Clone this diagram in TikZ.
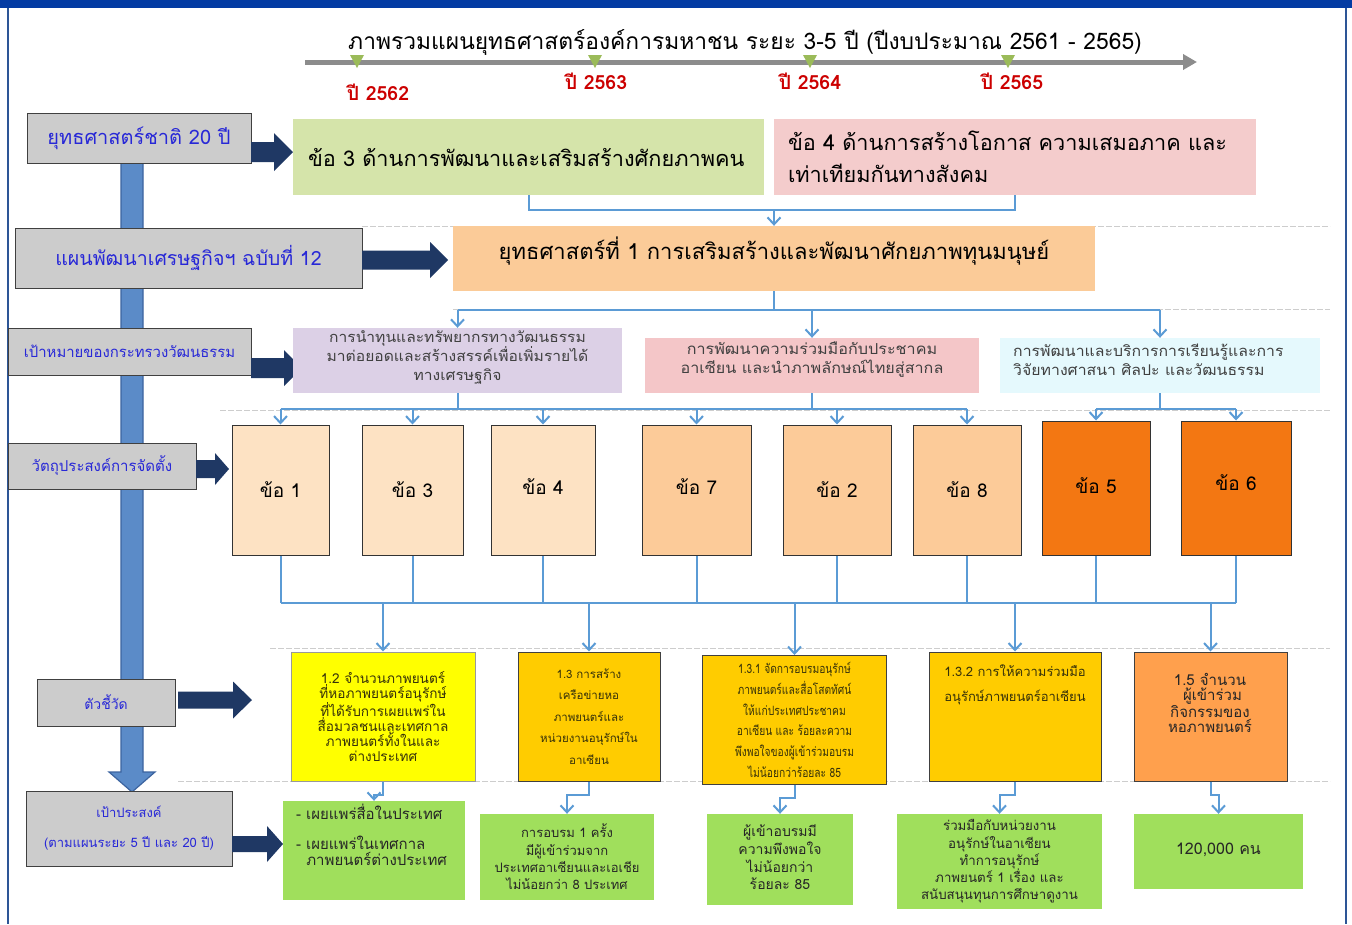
\documentclass[tikz,border=0pt]{standalone}
\usepackage{fontspec}
\setmainfont{Loma}[Script=Thai]
\newfontfamily\thcond{Loma}[Script=Thai,FakeStretch=0.8]
\newfontfamily\thwide{Loma}[Script=Thai,FakeStretch=1.07]
\usetikzlibrary{arrows.meta}
\newcommand\fsz[2]{\fontsize{#1}{#2}\selectfont}
\definecolor{topbar}{RGB}{3,59,163}
\definecolor{frameblue}{RGB}{45,85,150}
\definecolor{tlgray}{RGB}{140,140,140}
\definecolor{tgreen}{RGB}{155,187,89}
\definecolor{yred}{RGB}{204,0,0}
\definecolor{lgray}{RGB}{204,204,204}
\definecolor{lblue}{RGB}{40,40,215}
\definecolor{navy}{RGB}{31,56,100}
\definecolor{vblue}{RGB}{91,139,200}
\definecolor{vblueD}{RGB}{60,100,160}
\definecolor{cblue}{RGB}{91,155,213}
\definecolor{gG}{RGB}{213,228,170}
\definecolor{pP}{RGB}{244,204,204}
\definecolor{oO}{RGB}{251,203,152}
\definecolor{pu}{RGB}{220,208,230}
\definecolor{pk}{RGB}{244,198,200}
\definecolor{cy}{RGB}{229,249,253}
\definecolor{pe1}{RGB}{253,226,195}
\definecolor{pe2}{RGB}{252,203,153}
\definecolor{or1}{RGB}{243,119,18}
\definecolor{ye}{RGB}{255,255,0}
\definecolor{go}{RGB}{255,204,0}
\definecolor{or2}{RGB}{255,160,77}
\definecolor{gr}{RGB}{160,223,92}
\definecolor{sepc}{RGB}{205,205,205}
\definecolor{itext}{RGB}{55,50,10}
\newcommand\harrow[6]{\fill[navy] (#1,{#3-#4}) -- ({#2-#6},{#3-#4}) -- ({#2-#6},{#3-#5}) -- (#2,#3) -- ({#2-#6},{#3+#5}) -- ({#2-#6},{#3+#4}) -- (#1,{#3+#4}) -- cycle;}
\newcommand\gtri[1]{\fill[tgreen] ({#1-7},55) -- ({#1+7},55) -- (#1,68) -- cycle;}
\begin{document}
\begin{tikzpicture}[x=1pt,y=-1pt,
  lbox/.style={draw=black!75, fill=lgray, line width=1pt, text=lblue, inner sep=0pt, align=center},
  conn/.style={draw=cblue, line width=2pt},
  arr/.style={-{Straight Barb[length=7pt,width=13pt]}},
  sepline/.style={draw=sepc, line width=1pt, dash pattern=on 6pt off 2pt},
  kbox/.style={draw=black!80, line width=1pt, minimum height=130pt, inner sep=0pt, font=\fsz{19}{22}},
  ibox/.style={draw=black!75, line width=1pt, minimum height=129pt, inner sep=0pt, align=center, text=itext},
  bbox/.style={fill=gr, inner sep=0pt, align=center, text=black!85},
  yr/.style={text=yred, font=\bfseries\fsz{19.5}{22}},
  tx/.style={inner sep=0pt, align=center}
]
\useasboundingbox (0,0) rectangle (1352,924);
\fill[white] (0,0) rectangle (1352,924);
\fill[topbar] (0,0) rectangle (1352,8);
\draw[frameblue, line width=1.5pt] (8,8) -- (8,924);
\draw[frameblue, line width=1.5pt] (1346,8) -- (1346,924);
% separators
\draw[sepline] (362,226) -- (1330,226);
\draw[sepline] (453,309) -- (1330,309);
\draw[sepline] (220,410) -- (1330,410);
\draw[sepline] (270,648) -- (1330,648);
\draw[sepline] (178,781) -- (1330,781);
% title and timeline
\node[font=\fsz{22.8}{26}] (title) at (745,42) {ภาพรวมแผนยุทธศาสตร์องค์การมหาชน ระยะ 3-5 ปี (ปีงบประมาณ 2561 - 2565)};
\coordinate (ts) at (305,62);
\coordinate (te) at (1197,62);
\draw[tlgray, line width=5pt, -{Triangle[length=14pt,width=15pt]}] (ts) -- (te);
\gtri{357}\gtri{595}\gtri{810}\gtri{1008}
\node[yr] (y1) at (378,92) {ปี 2562};
\node[yr] (y2) at (596,81) {ปี 2563};
\node[yr] (y3) at (810,81) {ปี 2564};
\node[yr] (y4) at (1012,81) {ปี 2565};
% vertical blue arrow
\filldraw[fill=vblue, draw=vblueD, line width=1.2pt] (121,163) -- (143,163) -- (143,772) -- (155,772) -- (132,792) -- (109,772) -- (121,772) -- cycle;
% left boxes
\node[lbox, minimum width=224pt, minimum height=50pt, font=\fsz{20}{22}] (L1) at (139,138) {ยุทธศาสตร์ชาติ 20 ปี};
\node[lbox, minimum width=347pt, minimum height=60pt, font=\fsz{19.6}{22}] (L2) at (188.5,258) {แผนพัฒนาเศรษฐกิจฯ ฉบับที่ 12};
\node[lbox, minimum width=243pt, minimum height=47pt, font=\fsz{14.9}{17}] (L3) at (129.5,351.5) {เป้าหมายของกระทรวงวัฒนธรรม};
\node[lbox, minimum width=188pt, minimum height=46pt, font=\fsz{15}{17}] (L4) at (102,466) {วัตถุประสงค์การจัดตั้ง};
\node[lbox, minimum width=138pt, minimum height=47pt, font=\fsz{14}{16}] (L5) at (106,702.5) {ตัวชี้วัด};
\node[lbox, minimum width=206pt, minimum height=75pt, font=\fsz{13}{30}] (L6) at (129,828.5) {เป้าประสงค์\\(ตามแผนระยะ 5 ปี และ 20 ปี)};
% navy block arrows
\harrow{251}{293}{152}{10}{19}{19}
\harrow{362}{448}{260}{9.5}{18}{18}
\harrow{251}{302}{368}{10}{18}{18}
\harrow{196}{229}{469}{9}{16}{14}
\harrow{178}{252}{700}{8.5}{18.5}{19}
\harrow{232}{283}{844}{8}{18}{16}
% top boxes
\node[fill=gG, minimum width=471pt, minimum height=76pt, text width=441pt, inner xsep=15pt, inner ysep=0pt, align=left, font=\fsz{21.7}{24}] (G) at (528.5,157) {ข้อ 3 ด้านการพัฒนาและเสริมสร้างศักยภาพคน};
\node[fill=pP, minimum width=482pt, minimum height=76pt, text width=454pt, inner xsep=14pt, inner ysep=0pt, align=left, font=\fsz{21.7}{32}] (P) at (1015,157) {ข้อ 4 ด้านการสร้างโอกาส ความเสมอภาค และ\\เท่าเทียมกันทางสังคม};
\node[fill=oO, minimum width=642pt, minimum height=65pt] (O) at (774,258.5) {};
\node[tx, font=\fsz{22}{24}] (Ot) at (774,251) {ยุทธศาสตร์ที่ 1 การเสริมสร้างและพัฒนาศักยภาพทุนมนุษย์};
\coordinate (jt) at (774,210);
\draw[conn] (G.south) -- (G.south |- jt) -- (P.south |- jt) -- (P.south);
\draw[conn, arr] (jt) -- (O.north);
% level 3 boxes
\node[fill=pu, minimum width=329pt, minimum height=65pt, inner sep=0pt] (Pu) at (457.5,360.5) {};
\node[tx, font=\thwide\fsz{14.6}{19}, text=black!75] (Put) at (457.5,357) {การนำทุนและทรัพยากรทางวัฒนธรรม\\มาต่อยอดและสร้างสรรค์เพื่อเพิ่มรายได้\\ทางเศรษฐกิจ};
\node[fill=pk, minimum width=334pt, minimum height=55pt, inner sep=0pt] (Pk) at (812,365.5) {};
\node[tx, font=\thwide\fsz{15.1}{19}, text=black!75] (Pkt) at (812,360) {การพัฒนาความร่วมมือกับประชาคม\\อาเซียน และนำภาพลักษณ์ไทยสู่สากล};
\node[fill=cy, minimum width=320pt, minimum height=55pt, inner sep=0pt] (Cy) at (1160,365.5) {};
\node[tx, anchor=west, align=left, font=\thwide\fsz{14.8}{19}, text=black!75] (Cyt) at (1013,360) {การพัฒนาและบริการการเรียนรู้และการ\\วิจัยทางศาสนา ศิลปะ และวัฒนธรรม};
\coordinate (j2) at (774,310);
\draw[conn] (O.south) -- (j2);
\draw[conn] (Pu.north |- j2) -- (Cy.north |- j2);
\foreach \n in {Pu,Pk,Cy} \draw[conn, arr] (\n.north |- j2) -- (\n.north);
% goal boxes
\node[kbox, fill=pe1, minimum width=97pt] (k1) at (280.5,490) {ข้อ 1};
\node[kbox, fill=pe1, minimum width=101pt] (k3) at (412.5,490) {ข้อ 3};
\node[kbox, fill=pe1, minimum width=104pt] (k4) at (543,490) {\raisebox{7pt}{ข้อ 4}};
\node[kbox, fill=pe2, minimum width=109pt] (k7) at (696.5,490) {\raisebox{7pt}{ข้อ 7}};
\node[kbox, fill=pe2, minimum width=108pt] (k2) at (837,490) {ข้อ 2};
\node[kbox, fill=pe2, minimum width=108pt] (k8) at (967,490) {ข้อ 8};
\node[kbox, fill=or1, minimum width=108pt, minimum height=134pt] (k5) at (1096,488) {\raisebox{4pt}{ข้อ 5}};
\node[kbox, fill=or1, minimum width=110pt, minimum height=134pt] (k6) at (1236,488) {\raisebox{11pt}{ข้อ 6}};
\coordinate (j3) at (0,409);
\draw[conn] (Pu.south) -- (Pu.south |- j3);
\draw[conn] (Pk.south) -- (Pk.south |- j3);
\draw[conn] (k1.north |- j3) -- (k8.north |- j3);
\foreach \n in {k1,k3,k4,k7,k2,k8} \draw[conn, arr] (\n.north |- j3) -- (\n.north);
\draw[conn] (Cy.south) -- (Cy.south |- j3);
\draw[conn] (k5.north |- j3) -- (k6.north |- j3);
\foreach \n in {k5,k6} \draw[conn, arr] (\n.north |- j3) -- (\n.north);
% indicator boxes
\node[ibox, fill=ye, draw=black!40, minimum width=184pt, font=\fsz{13.6}{15}] (i1) at (383,716.5) {1.2 จำนวนภาพยนตร์\\ที่หอภาพยนตร์อนุรักษ์\\ที่ได้รับการเผยแพร่ใน\\สื่อมวลชนและเทศกาล\\ภาพยนตร์ทั้งในและ\\ต่างประเทศ};
\node[ibox, fill=go, minimum width=142pt, font=\fsz{11.5}{21.5}] (i2) at (589,716.5) {1.3 การสร้าง\\เครือข่ายหอ\\ภาพยนตร์และ\\หน่วยงานอนุรักษ์ใน\\อาเซียน};
\node[ibox, fill=go, minimum width=184pt, font=\thcond\fsz{12.8}{20.8}] (i3) at (794.5,720) {1.3.1 จัดการอบรมอนุรักษ์\\ภาพยนตร์และสื่อโสตทัศน์\\ให้แก่ประเทศประชาคม\\อาเซียน และ ร้อยละความ\\พึงพอใจของผู้เข้าร่วมอบรม\\ไม่น้อยกว่าร้อยละ 85};
\node[ibox, fill=go, minimum width=172pt] (i4) at (1015,716.5) {};
\node[tx, text=itext, font=\fsz{13}{25}] (i4t) at (1015,684.5) {1.3.2 การให้ความร่วมมือ\\อนุรักษ์ภาพยนตร์อาเซียน};
\node[ibox, fill=or2, minimum width=153pt] (i5) at (1210.5,716.5) {};
\node[tx, text=black!85, font=\fsz{15}{15.3}] (i5t) at (1210,703) {1.5 จำนวน\\\ ผู้เข้าร่วม\\กิจกรรมของ\\หอภาพยนตร์};
\coordinate (j4) at (0,603);
\foreach \n in {k1,k3,k4,k7,k2,k8,k5,k6} \draw[conn] (\n.south) -- (\n.south |- j4);
\draw[conn] (k1.south |- j4) -- (k6.south |- j4);
\foreach \n in {i1,i2,i3,i4,i5} \draw[conn, arr] (\n.north |- j4) -- (\n.north);
% bottom boxes
\node[bbox, minimum width=182pt, minimum height=99pt] (b1) at (374,850.5) {};
\node[tx, anchor=north west, align=left, text=black!85, font=\fsz{15}{16}] (b1t) at (296,804) {- เผยแพร่สื่อในประเทศ\\[14pt]- เผยแพร่ในเทศกาล\\\ \ ภาพยนตร์ต่างประเทศ};
\node[bbox, minimum width=174pt, minimum height=86pt, font=\fsz{13}{17.3}] (b2) at (567,857) {การอบรม 1 ครั้ง\\มีผู้เข้าร่วมจาก\\ประเทศอาเซียนและเอเชีย\\ไม่น้อยกว่า 8 ประเทศ};
\node[bbox, minimum width=146pt, minimum height=91pt, font=\fsz{14}{17.3}] (b3) at (780,859.5) {\raisebox{5pt}{\begin{tabular}{@{}c@{}}ผู้เข้าอบรมมี\\ความพึงพอใจ\\ไม่น้อยกว่า\\ร้อยละ 85\end{tabular}}};
\node[bbox, minimum width=205pt, minimum height=95pt, font=\fsz{13.3}{17.3}] (b4) at (999.5,861.5) {ร่วมมือกับหน่วยงาน\\อนุรักษ์ในอาเซียน\\ทำการอนุรักษ์\\ภาพยนตร์ 1 เรื่อง และ\\สนับสนุนทุนการศึกษาดูงาน};
\node[bbox, minimum width=169pt, minimum height=75pt, font=\fsz{16}{20}] (b5) at (1218.5,851.5) {\raisebox{6pt}{120,000 คน}};
\foreach \a/\b in {i1/b1,i2/b2,i3/b3,i4/b4,i5/b5} \draw[conn, arr] (\a.south) -- ++(0,13) -| (\b.north);
\end{tikzpicture}
\end{document}
